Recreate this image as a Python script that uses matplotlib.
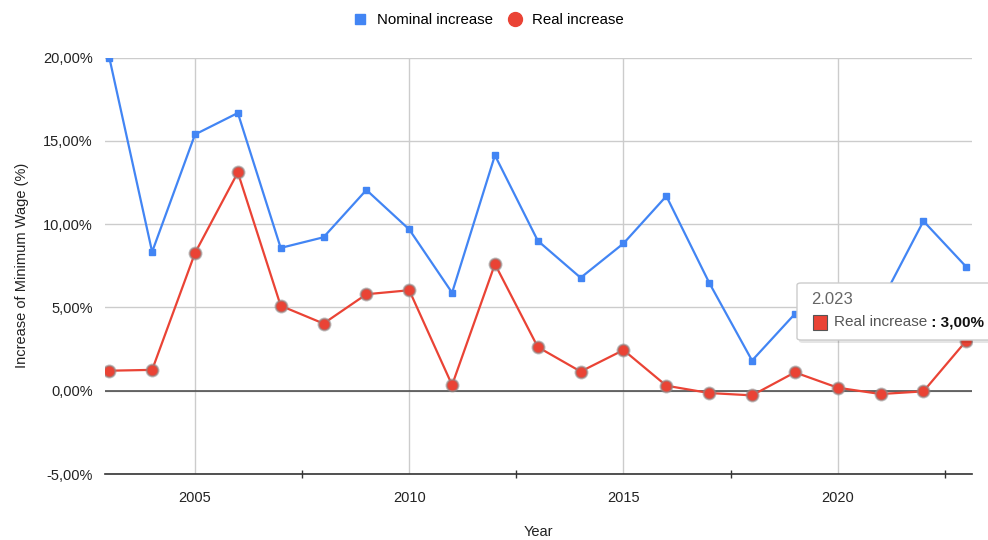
import numpy as np
import matplotlib
matplotlib.use('Agg')
import matplotlib.pyplot as plt
from matplotlib.lines import Line2D
from matplotlib.patches import Rectangle, FancyBboxPatch
from matplotlib.ticker import FuncFormatter

plt.rcParams['font.family'] = ['Liberation Sans', 'DejaVu Sans']

# yearly minimum wage increase, percent
years = np.arange(2003, 2024)
nominal = [20.0, 8.33, 15.38, 16.67, 8.57, 9.21, 12.05, 9.68, 5.88, 14.13,
           9.0, 6.78, 8.84, 11.68, 6.48, 1.81, 4.61, 4.71, 5.26, 10.18, 7.43]
real = [1.2, 1.25, 8.26, 13.1, 5.1, 4.03, 5.79, 6.03, 0.34, 7.6,
        2.62, 1.15, 2.44, 0.3, -0.14, -0.28, 1.1, 0.18, -0.2, -0.04, 3.0]

year_ticks = [2005, 2010, 2015, 2020]
minor_ticks = [2007.5, 2012.5, 2017.5, 2022.5]
pct_ticks = [-5, 0, 5, 10, 15, 20]

blue = '#4285f4'
red = '#ea4335'

W, H = 988, 540
fig = plt.figure(figsize=(W / 100, H / 100), dpi=100)
ax = fig.add_axes([105 / W, 1 - 474 / H, (972.3 - 105) / W, (474 - 57.5) / H])

ax.plot(years, nominal, color=blue, lw=1.6, marker='s', ms=4.5,
        mec=blue, zorder=3)
ax.plot(years, real, color=red, lw=1.6, marker='o', ms=8.5,
        mfc=red, mec=(0.55, 0.55, 0.55, 0.6), mew=1.5, zorder=4)

ax.set_xlim(2002.9, 2023.14)
ax.set_ylim(-5, 20)
ax.set_xticks(year_ticks)
ax.set_xticks(minor_ticks, minor=True)
ax.set_yticks(pct_ticks)
ax.yaxis.set_major_formatter(FuncFormatter(lambda v, p: f'{v:.2f}%'.replace('.', ',')))

ax.grid(True, which='major', color='#cccccc', lw=1)
ax.set_axisbelow(True)
ax.axhline(0, color='#444444', lw=1.1, zorder=2)

for s in ['top', 'right', 'left']:
    ax.spines[s].set_visible(False)
ax.spines['bottom'].set_color('#333333')
ax.spines['bottom'].set_linewidth(1.2)

ax.tick_params(axis='both', which='major', length=0, labelsize=10.5,
               labelcolor='#222222')
ax.tick_params(axis='x', which='major', pad=12)
ax.tick_params(axis='y', which='major', pad=9)
ax.tick_params(axis='x', which='minor', direction='inout', length=6,
               width=1, color='#333333')

ax.set_xlabel('Year', fontsize=10.5, color='#222222', labelpad=15)
ax.set_ylabel('Increase of Minimum Wage (%)', fontsize=10.5,
              color='#222222', labelpad=10)

handles = [
    Line2D([], [], ls='none', marker='s', ms=6.5, color=blue),
    Line2D([], [], ls='none', marker='o', ms=10, color=red),
]
fig.legend(handles, ['Nominal increase', 'Real increase'], loc='center',
           bbox_to_anchor=(0.494, 1 - 20 / H), ncol=2, frameon=False,
           fontsize=10.8, handletextpad=0.6, columnspacing=1.0,
           handlelength=1.0)

# hover tooltip for the last real point
shadow = FancyBboxPatch((799 / W, 1 - 343 / H), 200 / W, 57 / H,
                        boxstyle='round,pad=0,rounding_size=0.004',
                        transform=fig.transFigure, fc=(0, 0, 0, 0.10),
                        ec='none', zorder=9)
box = FancyBboxPatch((797 / W, 1 - 340 / H), 200 / W, 57 / H,
                     boxstyle='round,pad=0,rounding_size=0.004',
                     transform=fig.transFigure, fc='white',
                     ec='#cccccc', lw=1, zorder=10)
fig.patches.extend([shadow, box])
fig.patches.append(Rectangle((812.5 / W, 1 - 330 / H), 14 / W, 15 / H,
                             transform=fig.transFigure, fc=red,
                             ec='#555555', lw=0.8, zorder=11))
fig.text(811 / W, 1 - 300 / H, f'{years[-1] / 1000:.3f}', fontsize=12,
         color='#666666', va='center', zorder=11)
t = fig.text(834 / W, 1 - 322.5 / H, 'Real increase', fontsize=11,
             color='#555555', va='center', zorder=11)
fig.canvas.draw()
bb = t.get_window_extent()
fig.text(bb.x1 / W, 1 - 322.5 / H, ' : ' + f'{real[-1]:.2f}%'.replace('.', ','),
         fontsize=11, color='#111111', fontweight='bold',
         va='center', zorder=11)

fig.savefig('out.png', dpi=100)
